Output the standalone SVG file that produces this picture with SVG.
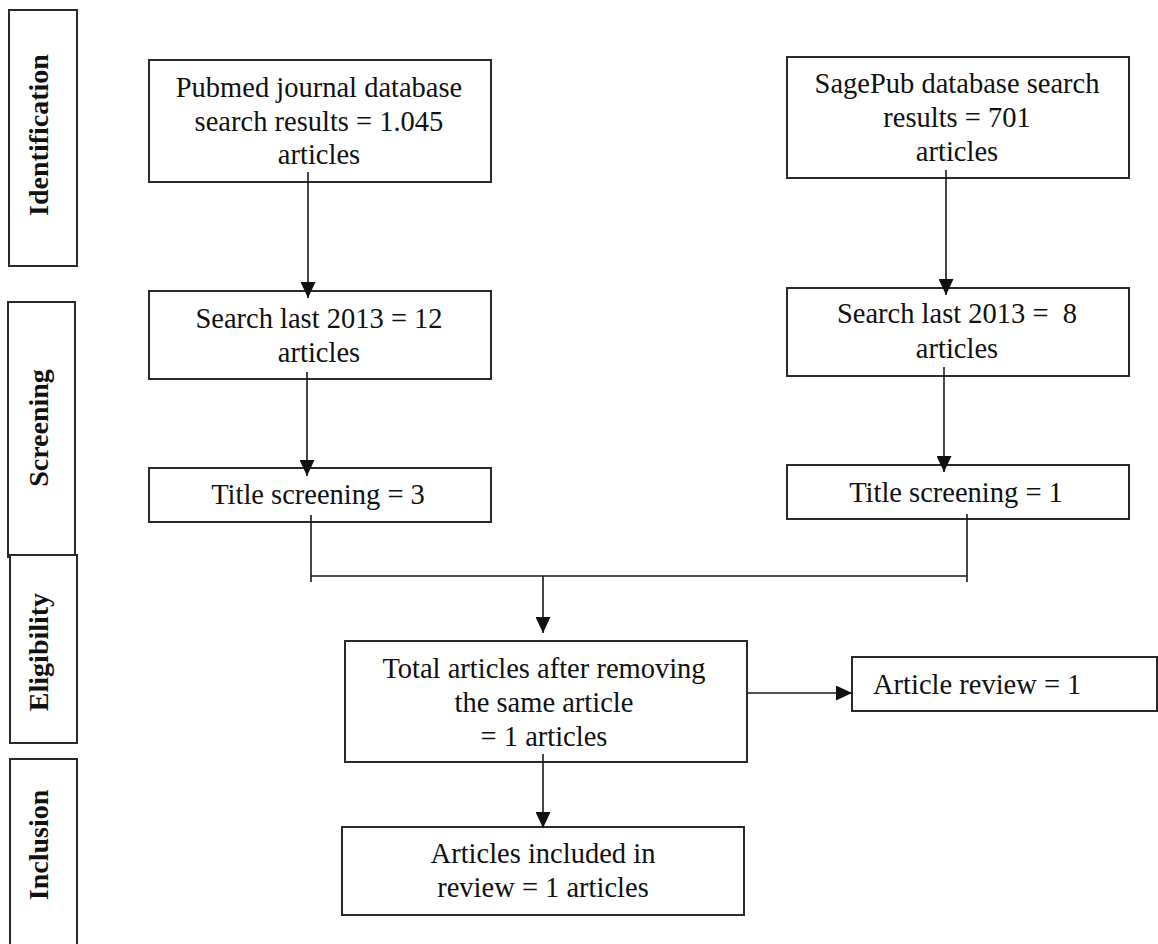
<svg xmlns="http://www.w3.org/2000/svg" width="1158" height="944" viewBox="0 0 1158 944">
<defs>
<style>
.box{fill:#fff;stroke:#2a2a2a;stroke-width:2}
.t{font-family:"Liberation Serif","Times New Roman",serif;font-size:28.5px;fill:#111;text-anchor:middle}
.side{font-family:"Liberation Serif","Times New Roman",serif;font-size:28px;font-weight:bold;fill:#111;text-anchor:middle}
.c{fill:none;stroke:#1a1a1a;stroke-width:1.6}
</style>
<marker id="ah" viewBox="0 0 16 15" refX="16" refY="7.5" markerWidth="16" markerHeight="15" markerUnits="userSpaceOnUse" orient="auto">
<path d="M0,0 L16,7.5 L0,15 z" fill="#111"/>
</marker>
</defs>
<rect width="1158" height="944" fill="#fff"/>

<g id="phase-identification">
<rect class="box" x="9" y="10" width="68" height="256"/>
<text class="side" transform="translate(48,135) rotate(-90)">Identification</text>
</g>
<g id="phase-screening">
<rect class="box" x="8" y="302" width="67" height="255"/>
<text class="side" transform="translate(48,428) rotate(-90)">Screening</text>
</g>
<g id="phase-eligibility">
<rect class="box" x="10" y="555" width="67" height="188"/>
<text class="side" transform="translate(48,652) rotate(-90)">Eligibility</text>
</g>
<g id="phase-inclusion">
<rect class="box" x="10" y="759" width="67" height="200"/>
<text class="side" transform="translate(48,845) rotate(-90)">Inclusion</text>
</g>

<g id="pubmed">
<rect class="box" x="149" y="60" width="342" height="122"/>
<text class="t" x="319" y="97">Pubmed journal database</text>
<text class="t" x="319" y="131">search results = 1.045</text>
<text class="t" x="319" y="164">articles</text>
</g>
<g id="sagepub">
<rect class="box" x="787" y="57" width="342" height="121"/>
<text class="t" x="957" y="93">SagePub database search</text>
<text class="t" x="957" y="127">results = 701</text>
<text class="t" x="957" y="161">articles</text>
</g>
<g id="search-left">
<rect class="box" x="149" y="291" width="342" height="88"/>
<text class="t" x="319" y="328">Search last 2013 = 12</text>
<text class="t" x="319" y="362">articles</text>
</g>
<g id="search-right">
<rect class="box" x="787" y="288" width="342" height="88"/>
<text class="t" x="957" y="323" xml:space="preserve">Search last 2013 =  8</text>
<text class="t" x="957" y="358">articles</text>
</g>
<g id="title-left">
<rect class="box" x="149" y="468" width="342" height="54"/>
<text class="t" x="318" y="504">Title screening = 3</text>
</g>
<g id="title-right">
<rect class="box" x="787" y="465" width="342" height="54"/>
<text class="t" x="956" y="502">Title screening = 1</text>
</g>
<g id="total">
<rect class="box" x="345" y="641" width="402" height="121"/>
<text class="t" x="544" y="678">Total articles after removing</text>
<text class="t" x="544" y="712">the same article</text>
<text class="t" x="544" y="746">= 1 articles</text>
</g>
<g id="article-review">
<rect class="box" x="852" y="657" width="305" height="54"/>
<text class="t" x="873" y="694" style="text-anchor:start">Article review = 1</text>
</g>
<g id="included">
<rect class="box" x="342" y="827" width="402" height="88"/>
<text class="t" x="543" y="863">Articles included in</text>
<text class="t" x="543" y="897">review = 1 articles</text>
</g>

<g id="connectors">
<line class="c" x1="308" y1="172" x2="308" y2="298" marker-end="url(#ah)"/>
<line class="c" x1="946" y1="170" x2="946" y2="295" marker-end="url(#ah)"/>
<line class="c" x1="307" y1="372" x2="307" y2="476" marker-end="url(#ah)"/>
<line class="c" x1="944" y1="367" x2="944" y2="472" marker-end="url(#ah)"/>
<line class="c" x1="311" y1="515" x2="311" y2="582"/>
<line class="c" x1="967" y1="514" x2="967" y2="582"/>
<line class="c" x1="311" y1="576" x2="967" y2="576"/>
<line class="c" x1="543" y1="576" x2="543" y2="633" marker-end="url(#ah)"/>
<line class="c" x1="747" y1="693" x2="852" y2="693" marker-end="url(#ah)"/>
<line class="c" x1="543" y1="754" x2="543" y2="828" marker-end="url(#ah)"/>
</g>
</svg>
